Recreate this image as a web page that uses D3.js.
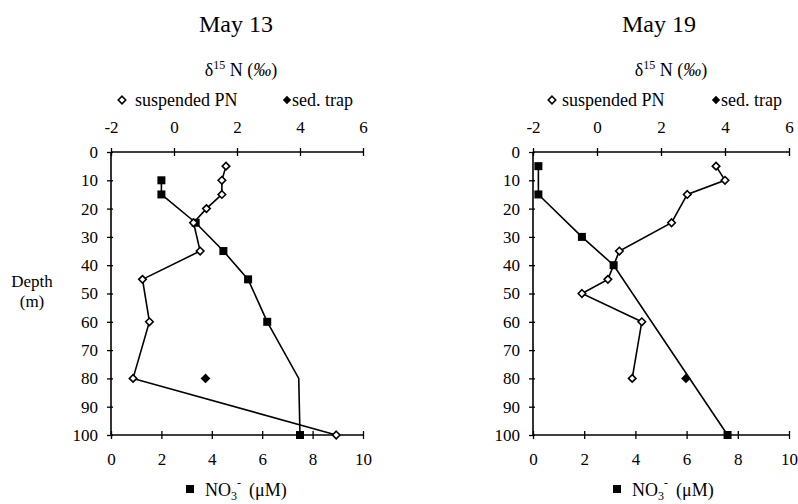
<!DOCTYPE html>
<html><head><meta charset="utf-8">
<script src="https://cdn.jsdelivr.net/npm/d3@7"></script>
<style>body{margin:0;background:#fff}svg{display:block}
svg text, svg tspan, svg g{font-family:"Liberation Serif" !important;}</style>
</head><body>
<svg id="c" width="798" height="504"></svg>
<script>
const depthTicks = [0,10,20,30,40,50,60,70,80,90,100];
const deltaTicks = [-2,0,2,4,6];
const no3Ticks = [0,2,4,6,8,10];

const may13PNDepth = [5,10,15,20,25,35,45,60,80,100];
const may13PN = [1.65,1.52,1.52,1.03,0.62,0.83,-1.0,-0.78,-1.3,5.15];
const may13NO3Depth = [10,15,25,35,45,60,80,100];
const may13NO3 = [2.0,2.0,3.36,4.46,5.44,6.2,7.45,7.5];
const may13NO3Unmarked = [80];
const may13TrapDepth = [80];
const may13Trap = [1.0];

const may19PNDepth = [5,10,15,25,35,45,50,60,80];
const may19PN = [3.72,4.0,2.82,2.33,0.70,0.34,-0.47,1.40,1.10];
const may19NO3Depth = [5,15,30,40,100];
const may19NO3 = [0.21,0.21,1.91,3.15,7.6];
const may19NO3Unmarked = [];
const may19TrapDepth = [80];
const may19Trap = [2.78];

const SERIF = '"Liberation Serif"';
const svg = d3.select("#c").style("font-family",SERIF);
const DIA = d3.symbolDiamond2 || d3.symbolSquare;

function panel(o){
  const y = d3.scaleLinear().domain([0,100]).range([152,435]);
  const xd = d3.scaleLinear().domain([-2,6]).range([o.x0,o.x1]);
  const xn = d3.scaleLinear().domain([0,10]).range([o.x0,o.x1]);
  const g = svg.append("g");
  g.append("text").attr("x",o.tx).attr("y",32).attr("text-anchor","middle").attr("font-size",24).text(o.title);
  const dl = g.append("text").attr("x",o.dx).attr("y",76).attr("text-anchor","middle").attr("font-size",18);
  dl.append("tspan").text("δ");
  dl.append("tspan").attr("font-size",12).attr("dy",-7).text("15");
  dl.append("tspan").attr("dy",7).text(" N (");
  dl.append("tspan").attr("font-style","italic").text("‰");
  dl.append("tspan").text(")");
  const dsym = d3.symbol().type(DIA).size(36);
  g.append("path").attr("d",dsym()).attr("transform",`translate(${o.l1},${100})`).attr("fill","#fff").attr("stroke","#000").attr("stroke-width",1.6);
  g.append("text").attr("x",o.l1+o.lg).attr("y",106).attr("font-size",18).text("suspended PN");
  g.append("path").attr("d",d3.symbol().type(DIA).size(44)()).attr("transform",`translate(${o.l2},${100})`).attr("fill","#000");
  g.append("text").attr("x",o.l2+5).attr("y",106).attr("font-size",18).text("sed. trap");

  const top = g.append("g").attr("transform","translate(0,152)").call(d3.axisTop(xd).tickValues(deltaTicks).tickSize(4).tickPadding(15).tickFormat(d3.format("d")));
  const bot = g.append("g").attr("transform","translate(0,435)").call(d3.axisBottom(xn).tickValues(no3Ticks).tickSize(4).tickPadding(14).tickFormat(d3.format("d")));
  const lef = g.append("g").attr("transform",`translate(${o.x0},0)`).call(d3.axisLeft(y).tickValues(depthTicks).tickSize(4).tickPadding(9).tickFormat(d3.format("d")));
  top.selectAll(".tick line").attr("y1",4);
  bot.selectAll(".tick line").attr("y1",-4);
  lef.selectAll(".tick line").attr("x1",2);
  [top,bot,lef].forEach(a=>{
    a.attr("font-size",17).attr("font-family",null);
    a.select(".domain").attr("stroke","#000").attr("stroke-width",1.6).attr("d", a===lef?`M0,${y(0)}V${y(100)}`: `M${o.x0},0H${o.x1}`);
    a.selectAll(".tick line").attr("stroke","#000").attr("stroke-width",1.3);
    a.selectAll(".tick text").attr("fill","#000").text(d=>d<0?"-"+Math.abs(d):d);
  });

  g.append("rect").attr("x",o.bx-4).attr("y",485).attr("width",8).attr("height",8).attr("fill","#000");
  const bl = g.append("text").attr("x",o.bx+15).attr("y",496).attr("font-size",18);
  bl.append("tspan").text("NO");
  bl.append("tspan").attr("font-size",12).attr("dy",4).text("3");
  bl.append("tspan").attr("font-size",12).attr("dy",-13).text("-");
  bl.append("tspan").attr("dy",9).attr("dx",8).text("(μM)");

  const line = d3.line().x(d=>d[0]).y(d=>d[1]);
  const pn = o.pnD.map((d,i)=>[xd(o.pn[i]),y(d)]);
  const no3 = o.nD.map((d,i)=>[xn(o.n[i]),y(d)]);
  g.append("path").attr("d",line(no3)).attr("fill","none").attr("stroke","#000").attr("stroke-width",1.6);
  g.append("path").attr("d",line(pn)).attr("fill","none").attr("stroke","#000").attr("stroke-width",1.6);
  o.nD.forEach((d,i)=>{ if(o.nHidden.includes(d)) return;
    g.append("rect").attr("x",xn(o.n[i])-4).attr("y",y(d)-4).attr("width",8).attr("height",8).attr("fill","#000");});
  o.pnD.forEach((d,i)=>{
    g.append("path").attr("d",dsym()).attr("transform",`translate(${xd(o.pn[i])},${y(d)})`).attr("fill","#fff").attr("stroke","#000").attr("stroke-width",1.6);});
  o.tD.forEach((d,i)=>{
    g.append("path").attr("d",d3.symbol().type(DIA).size(60)()).attr("transform",`translate(${xd(o.t[i])},${y(d)})`).attr("fill","#000");});
}

panel({x0:111,x1:363,title:"May 13",tx:236,dx:241,l1:122,lg:13,l2:287,bx:190,
  pnD:may13PNDepth,pn:may13PN,nD:may13NO3Depth,n:may13NO3,nHidden:may13NO3Unmarked,tD:may13TrapDepth,t:may13Trap});
panel({x0:533,x1:789,title:"May 19",tx:659,dx:671,l1:552,lg:10,l2:716,bx:617,
  pnD:may19PNDepth,pn:may19PN,nD:may19NO3Depth,n:may19NO3,nHidden:may19NO3Unmarked,tD:may19TrapDepth,t:may19Trap});

svg.append("text").attr("x",32).attr("y",287).attr("text-anchor","middle").attr("font-size",17).text("Depth");
svg.append("text").attr("x",32).attr("y",307).attr("text-anchor","middle").attr("font-size",17).text("(m)");
svg.selectAll("text").style("font-family",SERIF);
</script>
</body></html>
